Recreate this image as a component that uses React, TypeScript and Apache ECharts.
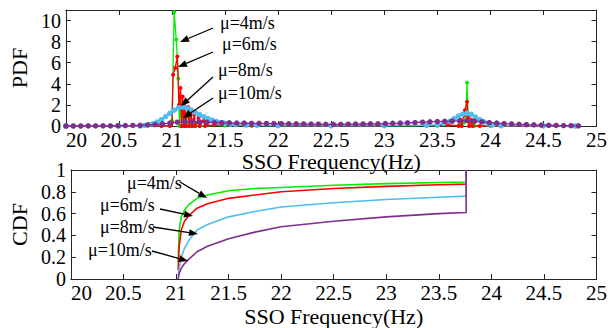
import React, { useEffect, useRef } from 'react';
import * as echarts from 'echarts';

const FONT = 'Liberation Serif';
const AXIS_COLOR = '#262626';

const speedLabels = ['μ=4m/s', 'μ=6m/s', 'μ=8m/s', 'μ=10m/s'];
const colors = ['#00ee00', '#ff0000', '#4dbeee', '#7e2f8e'];

// PDF, μ=4m/s
const pdfFreq4 = [20.0, 20.5, 20.9, 20.98, 21.0, 21.02, 21.04, 21.06, 21.07, 21.08, 21.09, 21.1, 21.11, 21.13, 21.14, 21.16, 21.17, 21.2, 21.21, 21.25, 21.26, 21.5, 21.75, 22.0, 22.5, 23.0, 23.5, 23.7, 23.75, 23.77, 23.78, 23.79, 23.8, 23.82, 23.85, 24.0, 24.5, 24.8];
const pdfVal4 = [0, 0, 0, 0, 0.5, 10.8, 8.2, 4.5, 0, 2.5, 0, 1.8, 0, 1.2, 0, 0.8, 0, 0.5, 0, 0.3, 0, 0.05, 0.03, 0.02, 0.02, 0.02, 0.03, 0.05, 0.3, 1.2, 4.1, 1.0, 0, 0.3, 0, 0, 0, 0];

// PDF, μ=6m/s
const pdfFreq6 = [20.0, 20.5, 20.9, 20.98, 21.0, 21.01, 21.03, 21.05, 21.065, 21.08, 21.09, 21.1, 21.11, 21.12, 21.13, 21.15, 21.16, 21.18, 21.19, 21.21, 21.22, 21.25, 21.26, 21.3, 21.31, 21.4, 21.75, 22.0, 22.5, 23.0, 23.5, 23.6, 23.7, 23.72, 23.73, 23.75, 23.76, 23.78, 23.79, 23.8, 23.82, 23.83, 23.9, 24.5, 24.8];
const pdfVal6 = [0, 0, 0, 0, 0.3, 4.85, 5.5, 6.6, 2.0, 3.6, 0, 2.8, 0, 2.2, 0, 1.8, 0, 1.4, 0, 1.1, 0, 0.8, 0, 0.5, 0, 0.1, 0.05, 0.05, 0.05, 0.05, 0.08, 0.1, 0, 0.6, 0, 1.0, 1.5, 2.3, 0.8, 0, 0.6, 0, 0, 0, 0];

// PDF, μ=8m/s
const pdfFreq8 = [20.0, 20.5, 20.7, 20.74, 20.78, 20.82, 20.86, 20.9, 20.94, 20.98, 21.02, 21.06, 21.1, 21.14, 21.18, 21.22, 21.26, 21.3, 21.34, 21.38, 21.42, 21.46, 21.5, 21.55, 21.6, 21.7, 21.8, 22.0, 22.5, 23.0, 23.4, 23.5, 23.56, 23.62, 23.66, 23.7, 23.74, 23.78, 23.82, 23.86, 23.9, 23.94, 23.98, 24.02, 24.1, 24.5, 24.8];
const pdfVal8 = [0, 0, 0, 0.05, 0.12, 0.22, 0.38, 0.6, 0.9, 1.2, 1.5, 1.72, 1.78, 1.7, 1.52, 1.3, 1.08, 0.88, 0.7, 0.55, 0.42, 0.32, 0.25, 0.18, 0.12, 0.08, 0.05, 0.03, 0.02, 0.03, 0.06, 0.12, 0.25, 0.45, 0.7, 0.95, 1.12, 1.22, 1.1, 0.85, 0.6, 0.4, 0.22, 0.1, 0.03, 0.01, 0];

// PDF, μ=10m/s
const pdfFreq10 = [20.0, 20.07, 20.14, 20.21, 20.28, 20.35, 20.42, 20.49, 20.56, 20.63, 20.7, 20.77, 20.84, 20.91, 20.98, 21.05, 21.12, 21.19, 21.26, 21.33, 21.4, 21.47, 21.54, 21.61, 21.68, 21.75, 21.82, 21.89, 21.96, 22.03, 22.1, 22.17, 22.24, 22.31, 22.38, 22.45, 22.52, 22.59, 22.66, 22.73, 22.8, 22.87, 22.94, 23.01, 23.08, 23.15, 23.22, 23.29, 23.36, 23.43, 23.5, 23.57, 23.64, 23.71, 23.78, 23.85, 23.92, 23.99, 24.06, 24.13, 24.2, 24.27, 24.34, 24.41, 24.48, 24.55, 24.62, 24.69, 24.76, 24.83];
const pdfVal10 = [0, 0, 0, 0.01, 0.01, 0.02, 0.02, 0.03, 0.04, 0.05, 0.07, 0.1, 0.14, 0.2, 0.28, 0.36, 0.42, 0.41, 0.38, 0.35, 0.33, 0.31, 0.3, 0.28, 0.27, 0.26, 0.25, 0.24, 0.23, 0.22, 0.21, 0.2, 0.19, 0.18, 0.17, 0.16, 0.16, 0.16, 0.17, 0.18, 0.19, 0.2, 0.21, 0.23, 0.25, 0.27, 0.3, 0.33, 0.36, 0.39, 0.42, 0.44, 0.46, 0.48, 0.5, 0.45, 0.39, 0.33, 0.27, 0.23, 0.19, 0.16, 0.13, 0.11, 0.09, 0.07, 0.05, 0.04, 0.03, 0.02];

// CDF
const cdfFreq = [21.02, 21.03, 21.05, 21.08, 21.12, 21.2, 21.3, 21.5, 21.75, 22.0, 22.5, 23.0, 23.5, 23.76, 23.76];
const cdf4 = [0.15, 0.45, 0.57, 0.63, 0.68, 0.74, 0.77, 0.81, 0.83, 0.84, 0.86, 0.875, 0.885, 0.89, 1.0];
const cdf6 = [0.08, 0.3, 0.45, 0.53, 0.58, 0.65, 0.69, 0.74, 0.77, 0.8, 0.83, 0.85, 0.865, 0.87, 1.0];
const cdf8 = [0.03, 0.1, 0.2, 0.28, 0.35, 0.45, 0.5, 0.57, 0.62, 0.66, 0.7, 0.73, 0.75, 0.76, 1.0];
const cdf10 = [0.0, 0.05, 0.1, 0.14, 0.18, 0.25, 0.3, 0.37, 0.43, 0.48, 0.53, 0.57, 0.6, 0.61, 1.0];

const pdfFreqs = [pdfFreq4, pdfFreq6, pdfFreq8, pdfFreq10];
const pdfVals = [pdfVal4, pdfVal6, pdfVal8, pdfVal10];
const cdfVals = [cdf4, cdf6, cdf8, cdf10];

const zip = (xs: number[], ys: number[]) => xs.map((x, i) => [x, ys[i]]);

function arrow(x1: number, y1: number, x2: number, y2: number) {
  const dx = x2 - x1;
  const dy = y2 - y1;
  const len = Math.sqrt(dx * dx + dy * dy);
  const ux = dx / len;
  const uy = dy / len;
  const hl = 9;
  const hw = 3.5;
  const bx = x2 - ux * hl;
  const by = y2 - uy * hl;
  return [
    {
      type: 'line',
      shape: { x1, y1, x2: bx, y2: by },
      style: { stroke: '#000', lineWidth: 1.3 },
      silent: true,
      z: 100,
    },
    {
      type: 'polygon',
      shape: {
        points: [
          [x2, y2],
          [bx - uy * hw, by + ux * hw],
          [bx + uy * hw, by - ux * hw],
        ],
      },
      style: { fill: '#000' },
      silent: true,
      z: 100,
    },
  ];
}

function label(text: string, x: number, y: number) {
  return {
    type: 'text',
    x,
    y,
    style: {
      text,
      fill: '#000',
      fontFamily: FONT,
      fontSize: 18,
      align: 'left',
      verticalAlign: 'middle',
    },
    silent: true,
    z: 100,
  };
}

export default function App() {
  const ref = useRef<HTMLDivElement>(null);

  useEffect(() => {
    if (!ref.current) return;
    const chart = echarts.init(ref.current, null, { renderer: 'svg' });

    const axisLine = { show: true, onZero: false, lineStyle: { color: AXIS_COLOR, width: 1 } };
    const axisTick = { show: true, inside: true, length: 5, lineStyle: { color: AXIS_COLOR, width: 1 } };
    const labelStyle = { color: '#000', fontFamily: FONT, fontSize: 21, lineHeight: 17 };
    const yLabelStyle = { color: '#000', fontFamily: FONT, fontSize: 20, lineHeight: 16 };
    const nameStyle = { color: '#000', fontFamily: FONT, fontSize: 22 };

    const xBottom = (gridIndex: number, nameGap: number) => ({
      type: 'value',
      gridIndex,
      min: 20,
      max: 25,
      interval: 0.5,
      position: 'bottom',
      axisLine,
      axisTick,
      splitLine: { show: false },
      axisLabel: { ...labelStyle, margin: 5, alignMinLabel: 'left' },
      name: 'SSO Frequency(Hz)',
      nameLocation: 'middle',
      nameGap,
      nameTextStyle: nameStyle,
    });
    const xTop = (gridIndex: number) => ({
      type: 'value',
      gridIndex,
      min: 20,
      max: 25,
      interval: 0.5,
      position: 'top',
      axisLine,
      axisTick,
      splitLine: { show: false },
      axisLabel: { show: false },
    });
    const yRight = (gridIndex: number, max: number, interval: number) => ({
      type: 'value',
      gridIndex,
      min: 0,
      max,
      interval,
      position: 'right',
      axisLine,
      axisTick,
      splitLine: { show: false },
      axisLabel: { show: false },
    });

    const graphics: any[] = [];
    const topLabels = [
      [220, 23, 213, 28, 180, 42],
      [222, 44, 213, 52, 178, 67],
      [218, 70, 213, 77, 181, 106],
      [218, 93, 213, 98, 183, 118],
    ];
    const botLabels = [
      [127, 183, 180, 182, 207, 198],
      [100, 205, 160, 209, 193, 216],
      [100, 227, 153, 227, 198, 234],
      [88, 250, 152, 251, 188, 261],
    ];
    topLabels.forEach((p, i) => {
      graphics.push(label(speedLabels[i], p[0], p[1]));
      graphics.push(...arrow(p[2], p[3], p[4], p[5]));
    });
    botLabels.forEach((p, i) => {
      graphics.push(label(speedLabels[i], p[0], p[1]));
      graphics.push(...arrow(p[2], p[3], p[4], p[5]));
    });

    const series: any[] = [];
    pdfFreqs.forEach((fx, i) => {
      series.push({
        type: 'line',
        name: speedLabels[i] + ' PDF',
        xAxisIndex: 0,
        yAxisIndex: 0,
        data: zip(fx, pdfVals[i]),
        symbol: 'circle',
        symbolSize: i === 3 ? 5.5 : i === 2 ? 5.5 : 4,
        showSymbol: true,
        showAllSymbol: true,
        itemStyle: { color: colors[i] },
        lineStyle: { color: colors[i], width: 1.3 },
        z: 2 + i,
      });
    });
    cdfVals.forEach((vals, i) => {
      series.push({
        type: 'line',
        name: speedLabels[i] + ' CDF',
        xAxisIndex: 2,
        yAxisIndex: 2,
        data: zip(cdfFreq, vals),
        symbol: 'none',
        itemStyle: { color: colors[i] },
        lineStyle: { color: colors[i], width: 1.6 },
        z: 2 + i,
      });
    });

    chart.setOption({
      animation: false,
      backgroundColor: '#fff',
      grid: [
        { left: 64, top: 10, width: 540, height: 116, containLabel: false },
        { left: 64, top: 170, width: 540, height: 116, containLabel: false },
      ],
      xAxis: [xBottom(0, 21), xTop(0), xBottom(1, 26), xTop(1)],
      yAxis: [
        {
          type: 'value',
          gridIndex: 0,
          min: 0,
          max: 11,
          interval: 2,
          position: 'left',
          axisLine,
          axisTick,
          splitLine: { show: false },
          axisLabel: { ...yLabelStyle, margin: 5, formatter: (v: number) => (v > 10 ? '' : String(v)) },
          name: 'PDF',
          nameLocation: 'middle',
          nameGap: 35,
          nameTextStyle: nameStyle,
        },
        yRight(0, 11, 2),
        {
          type: 'value',
          gridIndex: 1,
          min: 0,
          max: 1,
          interval: 0.2,
          position: 'left',
          axisLine,
          axisTick,
          splitLine: { show: false },
          axisLabel: { ...yLabelStyle, margin: 5, formatter: (v: number) => String(Math.round(v * 10) / 10) },
          name: 'CDF',
          nameLocation: 'middle',
          nameGap: 35,
          nameTextStyle: nameStyle,
        },
        yRight(1, 1, 0.2),
      ],
      series,
      graphic: { elements: graphics },
    });

    return () => chart.dispose();
  }, []);

  return (
    <div
      ref={ref}
      style={{ position: 'fixed', left: 0, top: 0, width: 610, height: 328, background: '#fff' }}
    />
  );
}
